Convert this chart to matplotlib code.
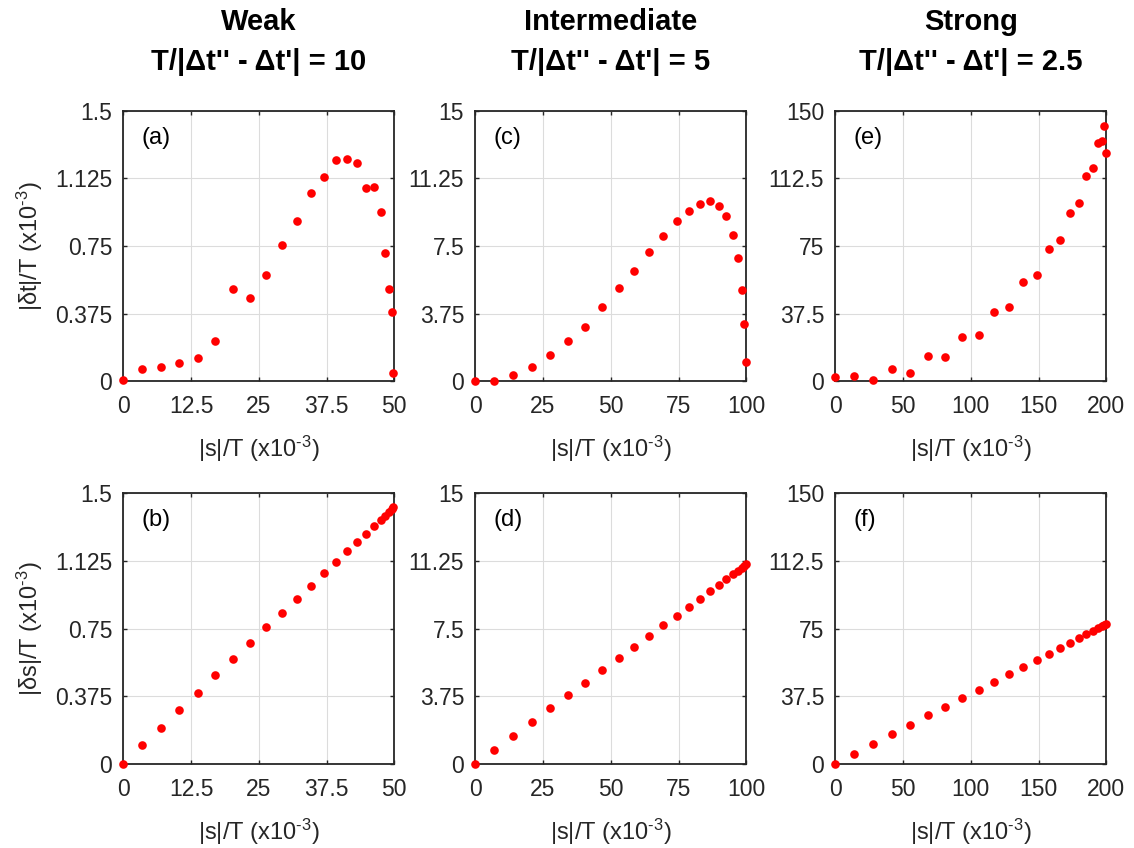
import matplotlib
matplotlib.use("Agg")
import matplotlib.pyplot as plt

plt.rcParams['font.family'] = ['Liberation Sans', 'DejaVu Sans']
plt.rcParams['mathtext.fontset'] = 'custom'
plt.rcParams['mathtext.rm'] = 'Liberation Sans'
plt.rcParams['mathtext.it'] = 'Liberation Sans:italic'
plt.rcParams['mathtext.bf'] = 'Liberation Sans:bold'

# ---------------- data ----------------
titles = ["Weak", "Intermediate", "Strong"]
subtitles = ["T/|\u0394t'' - \u0394t'| = 10", "T/|\u0394t'' - \u0394t'| = 5", "T/|\u0394t'' - \u0394t'| = 2.5"]
panel_top = ["(a)", "(c)", "(e)"]
panel_bot = ["(b)", "(d)", "(f)"]

s_weak = [0, 3.44, 6.89, 10.33, 13.7, 17.0, 20.3, 23.4, 26.4, 29.3, 32.0, 34.6,
          37.1, 39.3, 41.3, 43.1, 44.8, 46.2, 47.5, 48.3, 49.1, 49.6, 49.85]
dt_weak = [0.007, 0.069, 0.078, 0.10, 0.128, 0.224, 0.513, 0.461, 0.589, 0.757, 0.889, 1.041,
           1.133, 1.226, 1.231, 1.209, 1.072, 1.078, 0.941, 0.713, 0.509, 0.381, 0.044]
ds_weak = [0, 0.102, 0.201, 0.299, 0.393, 0.490, 0.580, 0.669, 0.756, 0.837, 0.914, 0.988,
           1.059, 1.119, 1.179, 1.230, 1.277, 1.319, 1.352, 1.376, 1.397, 1.411, 1.422]

s_inter = [0, 6.9, 13.9, 20.8, 27.5, 34.1, 40.6, 46.9, 53.1, 58.6, 64.2, 69.3,
           74.3, 78.8, 82.8, 86.5, 89.8, 92.6, 95.1, 96.9, 98.4, 99.3, 99.8]
dt_inter = [0, 0.037, 0.35, 0.78, 1.46, 2.24, 3.02, 4.09, 5.19, 6.09, 7.17, 8.07,
            8.87, 9.44, 9.85, 10.0, 9.74, 9.15, 8.09, 6.81, 5.04, 3.15, 1.09]
ds_inter = [0, 0.79, 1.55, 2.31, 3.07, 3.79, 4.49, 5.19, 5.86, 6.50, 7.09, 7.67,
            8.20, 8.70, 9.14, 9.57, 9.92, 10.22, 10.51, 10.71, 10.88, 10.99, 11.07]

s_strong = [0, 14.0, 27.8, 41.6, 54.9, 68.2, 81.3, 93.8, 106.2, 117.2, 128.3, 138.7,
            148.5, 157.6, 165.5, 172.9, 179.6, 185.2, 190.1, 193.8, 196.8, 198.5, 199.5]
dt_strong = [2.6, 3.0, 0.4, 6.7, 4.4, 13.9, 13.5, 24.4, 25.7, 38.1, 40.9, 54.8,
             58.7, 73.5, 78.1, 93.5, 98.7, 113.9, 118.3, 132.2, 133.3, 141.3, 126.7]
ds_strong = [0, 5.7, 11.1, 16.4, 21.6, 26.8, 31.6, 36.6, 41.2, 45.6, 49.9, 53.9,
             57.6, 61.1, 64.3, 67.1, 69.6, 71.9, 73.9, 75.4, 76.5, 77.2, 77.6]

xticks = [[0, 12.5, 25, 37.5, 50], [0, 25, 50, 75, 100], [0, 50, 100, 150, 200]]
xticklabels = [["0", "12.5", "25", "37.5", "50"], ["0", "25", "50", "75", "100"],
               ["0", "50", "100", "150", "200"]]
yticks = [[0, 0.375, 0.75, 1.125, 1.5], [0, 3.75, 7.5, 11.25, 15], [0, 37.5, 75, 112.5, 150]]
yticklabels = [["0", "0.375", "0.75", "1.125", "1.5"], ["0", "3.75", "7.5", "11.25", "15"],
               ["0", "37.5", "75", "112.5", "150"]]

xs = [s_weak, s_inter, s_strong]
dts = [dt_weak, dt_inter, dt_strong]
dss = [ds_weak, ds_inter, ds_strong]

sup = r"$^{\text{-}3}$"
xlabel = "|s|/T (x10" + sup + ")"
ylabel_top = "|\u03b4t|/T (x10" + sup + ")"
ylabel_bot = "|\u03b4s|/T (x10" + sup + ")"

# ---------------- figure ----------------
W, H = 1134, 848
fig = plt.figure(figsize=(W / 100, H / 100), dpi=100)

lefts = [123.3, 475.3, 835.3]
aw = 271.0
tops = [110.7, 493.3]
ah = 270.5

axcol = '#262626'

def style(ax, c):
    ax.set_xlim(xticks[c][0], xticks[c][-1])
    ax.set_ylim(yticks[c][0], yticks[c][-1])
    ax.set_xticks(xticks[c])
    ax.set_xticklabels(xticklabels[c])
    ax.set_yticks(yticks[c])
    ax.set_yticklabels(yticklabels[c])
    ax.grid(True, color='#dcdcdc', linewidth=0.8)
    ax.set_axisbelow(True)
    for sp in ax.spines.values():
        sp.set_color(axcol)
        sp.set_linewidth(1.3)
    ax.tick_params(axis='both', direction='in', length=3, width=1.0, color=axcol,
                   labelcolor=axcol, labelsize=16.5, top=True, right=True)
    ax.tick_params(axis='x', pad=10)
    ax.tick_params(axis='y', pad=8)

for c in range(3):
    for r in range(2):
        l = lefts[c] / W
        b = 1 - (tops[r] + ah) / H
        ax = fig.add_axes([l, b, aw / W, ah / H])
        style(ax, c)
        yv = dts[c] if r == 0 else dss[c]
        ax.plot(xs[c], yv, 'o', color='#ff0000', markersize=6.2, markeredgewidth=0,
                clip_on=False, zorder=3)
        ax.text(0.066, 0.90, (panel_top if r == 0 else panel_bot)[c], transform=ax.transAxes,
                fontsize=17, ha='left', va='center', color='black')
        ax.set_xlabel(xlabel, fontsize=17, color=axcol)
        ax.xaxis.set_label_coords(0.5, -0.195)
        ax.xaxis.label.set_va('top')
        if c == 0:
            ax.set_ylabel(ylabel_top if r == 0 else ylabel_bot, fontsize=17, color=axcol)
            ax.yaxis.set_label_coords(-0.29, 0.5)
    cx = (lefts[c] + aw / 2) / W
    fig.text(cx, 1 - 30 / H, titles[c], ha='center', va='baseline', fontsize=21,
             fontweight='bold', color='black')
    fig.text(cx, 1 - 70 / H, subtitles[c], ha='center', va='baseline', fontsize=21,
             fontweight='bold', color='black')

fig.savefig("out.png", dpi=100, facecolor='white')
